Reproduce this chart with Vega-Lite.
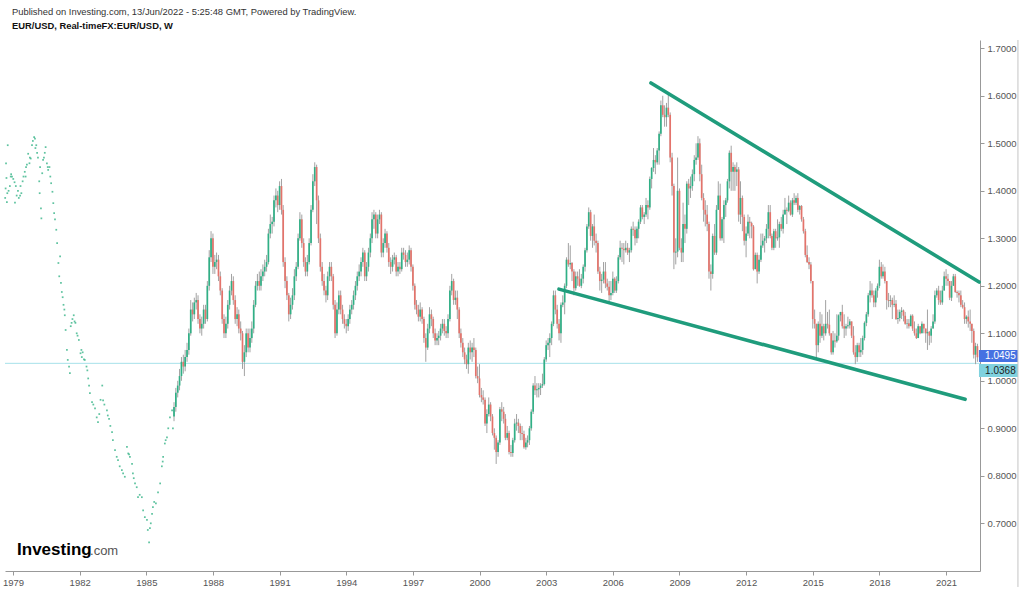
{
"$schema":"https://vega.github.io/schema/vega-lite/v6.json",
"width":975,"height":531,
"autosize":{"type":"none"},
"padding":{"left":5,"top":40,"right":44,"bottom":19},
"background":"white",
"config":{"view":{"stroke":null},"font":"Liberation Sans"},
"title":{"text":"Published on Investing.com, 13/Jun/2022 - 5:25:48 GMT, Powered by TradingView.","subtitle":"EUR/USD, Real-timeFX:EUR/USD, W","anchor":"start","frame":"group","dx":7,"offset":8,"font":"Liberation Sans","fontSize":9.4,"fontWeight":"normal","color":"#333333","subtitleFont":"Liberation Sans","subtitleFontSize":9.4,"subtitleFontWeight":"bold","subtitleColor":"#111111","subtitlePadding":5},
"data":{"values":[{"k":1}]},
"datasets":{
"candles":[
{"t":"1986-04","o":0.925,"h":0.955,"l":0.915,"c":0.945},
{"t":"1986-05","o":0.945,"h":0.985,"l":0.935,"c":0.975},
{"t":"1986-06","o":0.975,"h":1.0,"l":0.965,"c":0.99},
{"t":"1986-07","o":0.99,"h":1.025,"l":0.98,"c":1.01},
{"t":"1986-08","o":1.01,"h":1.05,"l":1.0,"c":1.04},
{"t":"1986-09","o":1.04,"h":1.055,"l":1.015,"c":1.03},
{"t":"1986-10","o":1.03,"h":1.065,"l":1.02,"c":1.05},
{"t":"1986-11","o":1.05,"h":1.08,"l":1.04,"c":1.065},
{"t":"1986-12","o":1.065,"h":1.11,"l":1.055,"c":1.1},
{"t":"1987-01","o":1.1,"h":1.17,"l":1.095,"c":1.15},
{"t":"1987-02","o":1.15,"h":1.165,"l":1.125,"c":1.14},
{"t":"1987-03","o":1.14,"h":1.175,"l":1.13,"c":1.165},
{"t":"1987-04","o":1.165,"h":1.185,"l":1.15,"c":1.17},
{"t":"1987-05","o":1.17,"h":1.18,"l":1.12,"c":1.13},
{"t":"1987-06","o":1.13,"h":1.14,"l":1.1,"c":1.11},
{"t":"1987-07","o":1.11,"h":1.135,"l":1.095,"c":1.12},
{"t":"1987-08","o":1.12,"h":1.16,"l":1.11,"c":1.15},
{"t":"1987-09","o":1.15,"h":1.16,"l":1.12,"c":1.13},
{"t":"1987-10","o":1.13,"h":1.21,"l":1.125,"c":1.2},
{"t":"1987-11","o":1.2,"h":1.275,"l":1.19,"c":1.26},
{"t":"1987-12","o":1.26,"h":1.315,"l":1.25,"c":1.3},
{"t":"1988-01","o":1.3,"h":1.31,"l":1.225,"c":1.24},
{"t":"1988-02","o":1.24,"h":1.265,"l":1.225,"c":1.25},
{"t":"1988-03","o":1.25,"h":1.27,"l":1.235,"c":1.255},
{"t":"1988-04","o":1.255,"h":1.265,"l":1.21,"c":1.22},
{"t":"1988-05","o":1.22,"h":1.23,"l":1.18,"c":1.19},
{"t":"1988-06","o":1.19,"h":1.195,"l":1.12,"c":1.13},
{"t":"1988-07","o":1.13,"h":1.14,"l":1.09,"c":1.1},
{"t":"1988-08","o":1.1,"h":1.135,"l":1.09,"c":1.12},
{"t":"1988-09","o":1.12,"h":1.17,"l":1.11,"c":1.16},
{"t":"1988-10","o":1.16,"h":1.2,"l":1.15,"c":1.19},
{"t":"1988-11","o":1.19,"h":1.225,"l":1.18,"c":1.21},
{"t":"1988-12","o":1.21,"h":1.22,"l":1.16,"c":1.17},
{"t":"1989-01","o":1.17,"h":1.18,"l":1.12,"c":1.13},
{"t":"1989-02","o":1.13,"h":1.155,"l":1.115,"c":1.14},
{"t":"1989-03","o":1.14,"h":1.15,"l":1.1,"c":1.11},
{"t":"1989-04","o":1.11,"h":1.125,"l":1.085,"c":1.1},
{"t":"1989-05","o":1.1,"h":1.105,"l":1.025,"c":1.04},
{"t":"1989-06","o":1.04,"h":1.075,"l":1.01,"c":1.06},
{"t":"1989-07","o":1.06,"h":1.11,"l":1.05,"c":1.1},
{"t":"1989-08","o":1.1,"h":1.11,"l":1.06,"c":1.07},
{"t":"1989-09","o":1.07,"h":1.11,"l":1.06,"c":1.09},
{"t":"1989-10","o":1.09,"h":1.125,"l":1.08,"c":1.11},
{"t":"1989-11","o":1.11,"h":1.17,"l":1.1,"c":1.16},
{"t":"1989-12","o":1.16,"h":1.21,"l":1.155,"c":1.2},
{"t":"1990-01","o":1.2,"h":1.225,"l":1.19,"c":1.21},
{"t":"1990-02","o":1.21,"h":1.23,"l":1.19,"c":1.2},
{"t":"1990-03","o":1.2,"h":1.235,"l":1.19,"c":1.22},
{"t":"1990-04","o":1.22,"h":1.245,"l":1.21,"c":1.23},
{"t":"1990-05","o":1.23,"h":1.255,"l":1.22,"c":1.24},
{"t":"1990-06","o":1.24,"h":1.265,"l":1.23,"c":1.25},
{"t":"1990-07","o":1.25,"h":1.32,"l":1.245,"c":1.31},
{"t":"1990-08","o":1.31,"h":1.35,"l":1.3,"c":1.33},
{"t":"1990-09","o":1.33,"h":1.345,"l":1.31,"c":1.335},
{"t":"1990-10","o":1.335,"h":1.39,"l":1.325,"c":1.38},
{"t":"1990-11","o":1.38,"h":1.405,"l":1.365,"c":1.39},
{"t":"1990-12","o":1.39,"h":1.4,"l":1.355,"c":1.37},
{"t":"1991-01","o":1.37,"h":1.42,"l":1.36,"c":1.41},
{"t":"1991-02","o":1.41,"h":1.425,"l":1.35,"c":1.36},
{"t":"1991-03","o":1.36,"h":1.37,"l":1.24,"c":1.25},
{"t":"1991-04","o":1.25,"h":1.26,"l":1.195,"c":1.21},
{"t":"1991-05","o":1.21,"h":1.22,"l":1.17,"c":1.18},
{"t":"1991-06","o":1.18,"h":1.185,"l":1.125,"c":1.14},
{"t":"1991-07","o":1.14,"h":1.175,"l":1.13,"c":1.16},
{"t":"1991-08","o":1.16,"h":1.195,"l":1.15,"c":1.18},
{"t":"1991-09","o":1.18,"h":1.235,"l":1.17,"c":1.22},
{"t":"1991-10","o":1.22,"h":1.25,"l":1.21,"c":1.24},
{"t":"1991-11","o":1.24,"h":1.31,"l":1.235,"c":1.3},
{"t":"1991-12","o":1.3,"h":1.355,"l":1.295,"c":1.34},
{"t":"1992-01","o":1.34,"h":1.35,"l":1.28,"c":1.29},
{"t":"1992-02","o":1.29,"h":1.3,"l":1.24,"c":1.25},
{"t":"1992-03","o":1.25,"h":1.26,"l":1.22,"c":1.23},
{"t":"1992-04","o":1.23,"h":1.265,"l":1.22,"c":1.25},
{"t":"1992-05","o":1.25,"h":1.3,"l":1.245,"c":1.29},
{"t":"1992-06","o":1.29,"h":1.37,"l":1.285,"c":1.36},
{"t":"1992-07","o":1.36,"h":1.435,"l":1.355,"c":1.42},
{"t":"1992-08","o":1.42,"h":1.46,"l":1.41,"c":1.45},
{"t":"1992-09","o":1.45,"h":1.455,"l":1.33,"c":1.38},
{"t":"1992-10","o":1.38,"h":1.39,"l":1.29,"c":1.3},
{"t":"1992-11","o":1.3,"h":1.31,"l":1.23,"c":1.24},
{"t":"1992-12","o":1.24,"h":1.25,"l":1.2,"c":1.21},
{"t":"1993-01","o":1.21,"h":1.225,"l":1.18,"c":1.19},
{"t":"1993-02","o":1.19,"h":1.2,"l":1.165,"c":1.18},
{"t":"1993-03","o":1.18,"h":1.23,"l":1.17,"c":1.22},
{"t":"1993-04","o":1.22,"h":1.25,"l":1.21,"c":1.24},
{"t":"1993-05","o":1.24,"h":1.25,"l":1.21,"c":1.22},
{"t":"1993-06","o":1.22,"h":1.225,"l":1.15,"c":1.16},
{"t":"1993-07","o":1.16,"h":1.17,"l":1.09,"c":1.1},
{"t":"1993-08","o":1.1,"h":1.165,"l":1.095,"c":1.15},
{"t":"1993-09","o":1.15,"h":1.19,"l":1.14,"c":1.18},
{"t":"1993-10","o":1.18,"h":1.19,"l":1.14,"c":1.15},
{"t":"1993-11","o":1.15,"h":1.16,"l":1.12,"c":1.13},
{"t":"1993-12","o":1.13,"h":1.14,"l":1.11,"c":1.12},
{"t":"1994-01","o":1.12,"h":1.13,"l":1.1,"c":1.115},
{"t":"1994-02","o":1.115,"h":1.14,"l":1.105,"c":1.13},
{"t":"1994-03","o":1.13,"h":1.16,"l":1.12,"c":1.15},
{"t":"1994-04","o":1.15,"h":1.17,"l":1.14,"c":1.16},
{"t":"1994-05","o":1.16,"h":1.19,"l":1.15,"c":1.18},
{"t":"1994-06","o":1.18,"h":1.21,"l":1.17,"c":1.2},
{"t":"1994-07","o":1.2,"h":1.23,"l":1.19,"c":1.22},
{"t":"1994-08","o":1.22,"h":1.245,"l":1.21,"c":1.23},
{"t":"1994-09","o":1.23,"h":1.26,"l":1.22,"c":1.25},
{"t":"1994-10","o":1.25,"h":1.28,"l":1.24,"c":1.27},
{"t":"1994-11","o":1.27,"h":1.275,"l":1.21,"c":1.22},
{"t":"1994-12","o":1.22,"h":1.25,"l":1.21,"c":1.24},
{"t":"1995-01","o":1.24,"h":1.28,"l":1.23,"c":1.27},
{"t":"1995-02","o":1.27,"h":1.31,"l":1.26,"c":1.3},
{"t":"1995-03","o":1.3,"h":1.355,"l":1.29,"c":1.34},
{"t":"1995-04","o":1.34,"h":1.36,"l":1.32,"c":1.35},
{"t":"1995-05","o":1.35,"h":1.355,"l":1.3,"c":1.31},
{"t":"1995-06","o":1.31,"h":1.35,"l":1.3,"c":1.34},
{"t":"1995-07","o":1.34,"h":1.36,"l":1.33,"c":1.35},
{"t":"1995-08","o":1.35,"h":1.355,"l":1.26,"c":1.27},
{"t":"1995-09","o":1.27,"h":1.3,"l":1.26,"c":1.29},
{"t":"1995-10","o":1.29,"h":1.32,"l":1.28,"c":1.31},
{"t":"1995-11","o":1.31,"h":1.315,"l":1.27,"c":1.28},
{"t":"1995-12","o":1.28,"h":1.29,"l":1.24,"c":1.25},
{"t":"1996-01","o":1.25,"h":1.26,"l":1.225,"c":1.24},
{"t":"1996-02","o":1.24,"h":1.265,"l":1.23,"c":1.255},
{"t":"1996-03","o":1.255,"h":1.27,"l":1.245,"c":1.26},
{"t":"1996-04","o":1.26,"h":1.265,"l":1.22,"c":1.23},
{"t":"1996-05","o":1.23,"h":1.25,"l":1.22,"c":1.24},
{"t":"1996-06","o":1.24,"h":1.25,"l":1.225,"c":1.235},
{"t":"1996-07","o":1.235,"h":1.28,"l":1.23,"c":1.27},
{"t":"1996-08","o":1.27,"h":1.28,"l":1.255,"c":1.265},
{"t":"1996-09","o":1.265,"h":1.275,"l":1.24,"c":1.25},
{"t":"1996-10","o":1.25,"h":1.27,"l":1.24,"c":1.255},
{"t":"1996-11","o":1.255,"h":1.285,"l":1.245,"c":1.275},
{"t":"1996-12","o":1.275,"h":1.28,"l":1.23,"c":1.24},
{"t":"1997-01","o":1.24,"h":1.245,"l":1.19,"c":1.2},
{"t":"1997-02","o":1.2,"h":1.205,"l":1.15,"c":1.16},
{"t":"1997-03","o":1.16,"h":1.17,"l":1.14,"c":1.15},
{"t":"1997-04","o":1.15,"h":1.16,"l":1.125,"c":1.135},
{"t":"1997-05","o":1.135,"h":1.165,"l":1.125,"c":1.15},
{"t":"1997-06","o":1.15,"h":1.155,"l":1.12,"c":1.13},
{"t":"1997-07","o":1.13,"h":1.135,"l":1.08,"c":1.09},
{"t":"1997-08","o":1.09,"h":1.1,"l":1.04,"c":1.07},
{"t":"1997-09","o":1.07,"h":1.12,"l":1.065,"c":1.11},
{"t":"1997-10","o":1.11,"h":1.155,"l":1.1,"c":1.14},
{"t":"1997-11","o":1.14,"h":1.15,"l":1.115,"c":1.13},
{"t":"1997-12","o":1.13,"h":1.135,"l":1.09,"c":1.1},
{"t":"1998-01","o":1.1,"h":1.11,"l":1.075,"c":1.085},
{"t":"1998-02","o":1.085,"h":1.1,"l":1.075,"c":1.09},
{"t":"1998-03","o":1.09,"h":1.105,"l":1.075,"c":1.095},
{"t":"1998-04","o":1.095,"h":1.12,"l":1.085,"c":1.11},
{"t":"1998-05","o":1.11,"h":1.13,"l":1.1,"c":1.12},
{"t":"1998-06","o":1.12,"h":1.13,"l":1.095,"c":1.105},
{"t":"1998-07","o":1.105,"h":1.115,"l":1.09,"c":1.1},
{"t":"1998-08","o":1.1,"h":1.14,"l":1.09,"c":1.13},
{"t":"1998-09","o":1.13,"h":1.2,"l":1.125,"c":1.19},
{"t":"1998-10","o":1.19,"h":1.225,"l":1.18,"c":1.21},
{"t":"1998-11","o":1.21,"h":1.215,"l":1.16,"c":1.17},
{"t":"1998-12","o":1.17,"h":1.19,"l":1.16,"c":1.175},
{"t":"1999-01","o":1.175,"h":1.19,"l":1.13,"c":1.15},
{"t":"1999-02","o":1.15,"h":1.155,"l":1.09,"c":1.1},
{"t":"1999-03","o":1.1,"h":1.11,"l":1.07,"c":1.08},
{"t":"1999-04","o":1.08,"h":1.09,"l":1.05,"c":1.06},
{"t":"1999-05","o":1.06,"h":1.07,"l":1.035,"c":1.045},
{"t":"1999-06","o":1.045,"h":1.055,"l":1.025,"c":1.035},
{"t":"1999-07","o":1.035,"h":1.08,"l":1.015,"c":1.07},
{"t":"1999-08","o":1.07,"h":1.085,"l":1.045,"c":1.06},
{"t":"1999-09","o":1.06,"h":1.08,"l":1.04,"c":1.07},
{"t":"1999-10","o":1.07,"h":1.09,"l":1.05,"c":1.065},
{"t":"1999-11","o":1.065,"h":1.07,"l":1.005,"c":1.01},
{"t":"1999-12","o":1.01,"h":1.03,"l":0.995,"c":1.005},
{"t":"2000-01","o":1.005,"h":1.035,"l":0.965,"c":0.97},
{"t":"2000-02","o":0.97,"h":0.985,"l":0.955,"c":0.965},
{"t":"2000-03","o":0.965,"h":0.98,"l":0.95,"c":0.96},
{"t":"2000-04","o":0.96,"h":0.965,"l":0.905,"c":0.91},
{"t":"2000-05","o":0.91,"h":0.94,"l":0.89,"c":0.93},
{"t":"2000-06","o":0.93,"h":0.965,"l":0.925,"c":0.95},
{"t":"2000-07","o":0.95,"h":0.955,"l":0.915,"c":0.925},
{"t":"2000-08","o":0.925,"h":0.93,"l":0.885,"c":0.89},
{"t":"2000-09","o":0.89,"h":0.9,"l":0.855,"c":0.88},
{"t":"2000-10","o":0.88,"h":0.885,"l":0.825,"c":0.85},
{"t":"2000-11","o":0.85,"h":0.875,"l":0.84,"c":0.87},
{"t":"2000-12","o":0.87,"h":0.945,"l":0.865,"c":0.94},
{"t":"2001-01","o":0.94,"h":0.955,"l":0.915,"c":0.935},
{"t":"2001-02","o":0.935,"h":0.945,"l":0.91,"c":0.92},
{"t":"2001-03","o":0.92,"h":0.93,"l":0.875,"c":0.88},
{"t":"2001-04","o":0.88,"h":0.905,"l":0.875,"c":0.89},
{"t":"2001-05","o":0.89,"h":0.895,"l":0.845,"c":0.85},
{"t":"2001-06","o":0.85,"h":0.865,"l":0.84,"c":0.848},
{"t":"2001-07","o":0.848,"h":0.88,"l":0.84,"c":0.875},
{"t":"2001-08","o":0.875,"h":0.92,"l":0.87,"c":0.91},
{"t":"2001-09","o":0.91,"h":0.93,"l":0.895,"c":0.912},
{"t":"2001-10","o":0.912,"h":0.92,"l":0.89,"c":0.905},
{"t":"2001-11","o":0.905,"h":0.91,"l":0.875,"c":0.89},
{"t":"2001-12","o":0.89,"h":0.905,"l":0.875,"c":0.888},
{"t":"2002-01","o":0.888,"h":0.895,"l":0.857,"c":0.86},
{"t":"2002-02","o":0.86,"h":0.88,"l":0.855,"c":0.87},
{"t":"2002-03","o":0.87,"h":0.885,"l":0.86,"c":0.875},
{"t":"2002-04","o":0.875,"h":0.905,"l":0.865,"c":0.9},
{"t":"2002-05","o":0.9,"h":0.94,"l":0.895,"c":0.935},
{"t":"2002-06","o":0.935,"h":0.995,"l":0.93,"c":0.99},
{"t":"2002-07","o":0.99,"h":1.01,"l":0.97,"c":0.98},
{"t":"2002-08","o":0.98,"h":0.995,"l":0.965,"c":0.982},
{"t":"2002-09","o":0.982,"h":0.995,"l":0.965,"c":0.985},
{"t":"2002-10","o":0.985,"h":0.995,"l":0.97,"c":0.99},
{"t":"2002-11","o":0.99,"h":1.015,"l":0.985,"c":0.993},
{"t":"2002-12","o":0.993,"h":1.05,"l":0.99,"c":1.045},
{"t":"2003-01","o":1.045,"h":1.085,"l":1.04,"c":1.075},
{"t":"2003-02","o":1.075,"h":1.09,"l":1.065,"c":1.08},
{"t":"2003-03","o":1.08,"h":1.1,"l":1.05,"c":1.09},
{"t":"2003-04","o":1.09,"h":1.125,"l":1.075,"c":1.12},
{"t":"2003-05","o":1.12,"h":1.19,"l":1.115,"c":1.18},
{"t":"2003-06","o":1.18,"h":1.19,"l":1.14,"c":1.15},
{"t":"2003-07","o":1.15,"h":1.16,"l":1.11,"c":1.12},
{"t":"2003-08","o":1.12,"h":1.13,"l":1.085,"c":1.1},
{"t":"2003-09","o":1.1,"h":1.165,"l":1.08,"c":1.16},
{"t":"2003-10","o":1.16,"h":1.18,"l":1.155,"c":1.165},
{"t":"2003-11","o":1.165,"h":1.205,"l":1.14,"c":1.2},
{"t":"2003-12","o":1.2,"h":1.26,"l":1.195,"c":1.255},
{"t":"2004-01","o":1.255,"h":1.29,"l":1.24,"c":1.245},
{"t":"2004-02","o":1.245,"h":1.285,"l":1.235,"c":1.248},
{"t":"2004-03","o":1.248,"h":1.25,"l":1.21,"c":1.23},
{"t":"2004-04","o":1.23,"h":1.235,"l":1.18,"c":1.195},
{"t":"2004-05","o":1.195,"h":1.23,"l":1.19,"c":1.22},
{"t":"2004-06","o":1.22,"h":1.23,"l":1.2,"c":1.215},
{"t":"2004-07","o":1.215,"h":1.235,"l":1.198,"c":1.2},
{"t":"2004-08","o":1.2,"h":1.225,"l":1.195,"c":1.215},
{"t":"2004-09","o":1.215,"h":1.245,"l":1.205,"c":1.24},
{"t":"2004-10","o":1.24,"h":1.28,"l":1.23,"c":1.275},
{"t":"2004-11","o":1.275,"h":1.33,"l":1.27,"c":1.325},
{"t":"2004-12","o":1.325,"h":1.365,"l":1.32,"c":1.355},
{"t":"2005-01","o":1.355,"h":1.36,"l":1.295,"c":1.305},
{"t":"2005-02","o":1.305,"h":1.33,"l":1.28,"c":1.325},
{"t":"2005-03","o":1.325,"h":1.35,"l":1.285,"c":1.295},
{"t":"2005-04","o":1.295,"h":1.31,"l":1.27,"c":1.29},
{"t":"2005-05","o":1.29,"h":1.295,"l":1.225,"c":1.23},
{"t":"2005-06","o":1.23,"h":1.24,"l":1.19,"c":1.21},
{"t":"2005-07","o":1.21,"h":1.225,"l":1.185,"c":1.213},
{"t":"2005-08","o":1.213,"h":1.25,"l":1.205,"c":1.23},
{"t":"2005-09","o":1.23,"h":1.25,"l":1.195,"c":1.205},
{"t":"2005-10","o":1.205,"h":1.215,"l":1.19,"c":1.198},
{"t":"2005-11","o":1.198,"h":1.21,"l":1.165,"c":1.18},
{"t":"2005-12","o":1.18,"h":1.21,"l":1.17,"c":1.185},
{"t":"2006-01","o":1.185,"h":1.23,"l":1.18,"c":1.215},
{"t":"2006-02","o":1.215,"h":1.218,"l":1.185,"c":1.19},
{"t":"2006-03","o":1.19,"h":1.22,"l":1.185,"c":1.21},
{"t":"2006-04","o":1.21,"h":1.265,"l":1.205,"c":1.26},
{"t":"2006-05","o":1.26,"h":1.295,"l":1.255,"c":1.28},
{"t":"2006-06","o":1.28,"h":1.29,"l":1.25,"c":1.278},
{"t":"2006-07","o":1.278,"h":1.29,"l":1.245,"c":1.275},
{"t":"2006-08","o":1.275,"h":1.295,"l":1.27,"c":1.28},
{"t":"2006-09","o":1.28,"h":1.29,"l":1.265,"c":1.27},
{"t":"2006-10","o":1.27,"h":1.28,"l":1.25,"c":1.275},
{"t":"2006-11","o":1.275,"h":1.325,"l":1.27,"c":1.32},
{"t":"2006-12","o":1.32,"h":1.335,"l":1.305,"c":1.318},
{"t":"2007-01","o":1.318,"h":1.325,"l":1.285,"c":1.3},
{"t":"2007-02","o":1.3,"h":1.325,"l":1.29,"c":1.32},
{"t":"2007-03","o":1.32,"h":1.34,"l":1.3,"c":1.335},
{"t":"2007-04","o":1.335,"h":1.37,"l":1.33,"c":1.365},
{"t":"2007-05","o":1.365,"h":1.37,"l":1.34,"c":1.345},
{"t":"2007-06","o":1.345,"h":1.355,"l":1.33,"c":1.35},
{"t":"2007-07","o":1.35,"h":1.385,"l":1.345,"c":1.37},
{"t":"2007-08","o":1.37,"h":1.38,"l":1.34,"c":1.365},
{"t":"2007-09","o":1.365,"h":1.43,"l":1.36,"c":1.425},
{"t":"2007-10","o":1.425,"h":1.45,"l":1.405,"c":1.448},
{"t":"2007-11","o":1.448,"h":1.49,"l":1.44,"c":1.465},
{"t":"2007-12","o":1.465,"h":1.475,"l":1.435,"c":1.46},
{"t":"2008-01","o":1.46,"h":1.49,"l":1.455,"c":1.485},
{"t":"2008-02","o":1.485,"h":1.525,"l":1.455,"c":1.52},
{"t":"2008-03","o":1.52,"h":1.59,"l":1.515,"c":1.58},
{"t":"2008-04","o":1.58,"h":1.6,"l":1.555,"c":1.56},
{"t":"2008-05","o":1.56,"h":1.58,"l":1.535,"c":1.555},
{"t":"2008-06","o":1.555,"h":1.585,"l":1.535,"c":1.575},
{"t":"2008-07","o":1.575,"h":1.605,"l":1.555,"c":1.56},
{"t":"2008-08","o":1.56,"h":1.565,"l":1.46,"c":1.47},
{"t":"2008-09","o":1.47,"h":1.48,"l":1.39,"c":1.41},
{"t":"2008-10","o":1.41,"h":1.415,"l":1.235,"c":1.27},
{"t":"2008-11","o":1.27,"h":1.3,"l":1.245,"c":1.272},
{"t":"2008-12","o":1.272,"h":1.47,"l":1.26,"c":1.4},
{"t":"2009-01","o":1.4,"h":1.405,"l":1.275,"c":1.28},
{"t":"2009-02","o":1.28,"h":1.3,"l":1.25,"c":1.27},
{"t":"2009-03","o":1.27,"h":1.375,"l":1.25,"c":1.33},
{"t":"2009-04","o":1.33,"h":1.35,"l":1.29,"c":1.32},
{"t":"2009-05","o":1.32,"h":1.42,"l":1.31,"c":1.415},
{"t":"2009-06","o":1.415,"h":1.425,"l":1.37,"c":1.405},
{"t":"2009-07","o":1.405,"h":1.43,"l":1.385,"c":1.41},
{"t":"2009-08","o":1.41,"h":1.445,"l":1.4,"c":1.435},
{"t":"2009-09","o":1.435,"h":1.475,"l":1.42,"c":1.465},
{"t":"2009-10","o":1.465,"h":1.5,"l":1.455,"c":1.47},
{"t":"2009-11","o":1.47,"h":1.515,"l":1.465,"c":1.5},
{"t":"2009-12","o":1.5,"h":1.51,"l":1.42,"c":1.435},
{"t":"2010-01","o":1.435,"h":1.455,"l":1.38,"c":1.385},
{"t":"2010-02","o":1.385,"h":1.395,"l":1.335,"c":1.36},
{"t":"2010-03","o":1.36,"h":1.38,"l":1.325,"c":1.35},
{"t":"2010-04","o":1.35,"h":1.37,"l":1.315,"c":1.33},
{"t":"2010-05","o":1.33,"h":1.335,"l":1.215,"c":1.23},
{"t":"2010-06","o":1.23,"h":1.245,"l":1.19,"c":1.225},
{"t":"2010-07","o":1.225,"h":1.31,"l":1.215,"c":1.305},
{"t":"2010-08","o":1.305,"h":1.33,"l":1.265,"c":1.27},
{"t":"2010-09","o":1.27,"h":1.37,"l":1.265,"c":1.36},
{"t":"2010-10","o":1.36,"h":1.42,"l":1.36,"c":1.39},
{"t":"2010-11","o":1.39,"h":1.415,"l":1.295,"c":1.3},
{"t":"2010-12","o":1.3,"h":1.345,"l":1.295,"c":1.34},
{"t":"2011-01","o":1.34,"h":1.38,"l":1.29,"c":1.37},
{"t":"2011-02","o":1.37,"h":1.385,"l":1.345,"c":1.38},
{"t":"2011-03","o":1.38,"h":1.425,"l":1.375,"c":1.42},
{"t":"2011-04","o":1.42,"h":1.485,"l":1.405,"c":1.48},
{"t":"2011-05","o":1.48,"h":1.495,"l":1.4,"c":1.44},
{"t":"2011-06","o":1.44,"h":1.46,"l":1.4,"c":1.45},
{"t":"2011-07","o":1.45,"h":1.455,"l":1.4,"c":1.44},
{"t":"2011-08","o":1.44,"h":1.46,"l":1.41,"c":1.445},
{"t":"2011-09","o":1.445,"h":1.45,"l":1.335,"c":1.35},
{"t":"2011-10","o":1.35,"h":1.42,"l":1.33,"c":1.385},
{"t":"2011-11","o":1.385,"h":1.39,"l":1.315,"c":1.345},
{"t":"2011-12","o":1.345,"h":1.35,"l":1.285,"c":1.295},
{"t":"2012-01","o":1.295,"h":1.325,"l":1.26,"c":1.31},
{"t":"2012-02","o":1.31,"h":1.35,"l":1.305,"c":1.335},
{"t":"2012-03","o":1.335,"h":1.345,"l":1.3,"c":1.332},
{"t":"2012-04","o":1.332,"h":1.335,"l":1.3,"c":1.325},
{"t":"2012-05","o":1.325,"h":1.328,"l":1.232,"c":1.235},
{"t":"2012-06","o":1.235,"h":1.27,"l":1.235,"c":1.265},
{"t":"2012-07","o":1.265,"h":1.27,"l":1.205,"c":1.23},
{"t":"2012-08","o":1.23,"h":1.265,"l":1.225,"c":1.255},
{"t":"2012-09","o":1.255,"h":1.31,"l":1.25,"c":1.285},
{"t":"2012-10","o":1.285,"h":1.31,"l":1.28,"c":1.295},
{"t":"2012-11","o":1.295,"h":1.305,"l":1.27,"c":1.3},
{"t":"2012-12","o":1.3,"h":1.33,"l":1.29,"c":1.32},
{"t":"2013-01","o":1.32,"h":1.37,"l":1.3,"c":1.355},
{"t":"2013-02","o":1.355,"h":1.37,"l":1.3,"c":1.305},
{"t":"2013-03","o":1.305,"h":1.31,"l":1.275,"c":1.28},
{"t":"2013-04","o":1.28,"h":1.32,"l":1.275,"c":1.315},
{"t":"2013-05","o":1.315,"h":1.32,"l":1.28,"c":1.3},
{"t":"2013-06","o":1.3,"h":1.34,"l":1.295,"c":1.302},
{"t":"2013-07","o":1.302,"h":1.335,"l":1.28,"c":1.33},
{"t":"2013-08","o":1.33,"h":1.345,"l":1.315,"c":1.32},
{"t":"2013-09","o":1.32,"h":1.36,"l":1.31,"c":1.35},
{"t":"2013-10","o":1.35,"h":1.385,"l":1.35,"c":1.36},
{"t":"2013-11","o":1.36,"h":1.365,"l":1.33,"c":1.358},
{"t":"2013-12","o":1.358,"h":1.39,"l":1.355,"c":1.375},
{"t":"2014-01","o":1.375,"h":1.38,"l":1.348,"c":1.35},
{"t":"2014-02","o":1.35,"h":1.385,"l":1.345,"c":1.38},
{"t":"2014-03","o":1.38,"h":1.395,"l":1.37,"c":1.375},
{"t":"2014-04","o":1.375,"h":1.39,"l":1.37,"c":1.385},
{"t":"2014-05","o":1.385,"h":1.395,"l":1.355,"c":1.36},
{"t":"2014-06","o":1.36,"h":1.37,"l":1.35,"c":1.368},
{"t":"2014-07","o":1.368,"h":1.37,"l":1.335,"c":1.34},
{"t":"2014-08","o":1.34,"h":1.345,"l":1.31,"c":1.315},
{"t":"2014-09","o":1.315,"h":1.32,"l":1.26,"c":1.265},
{"t":"2014-10","o":1.265,"h":1.285,"l":1.248,"c":1.25},
{"t":"2014-11","o":1.25,"h":1.26,"l":1.235,"c":1.245},
{"t":"2014-12","o":1.245,"h":1.25,"l":1.205,"c":1.21},
{"t":"2015-01","o":1.21,"h":1.21,"l":1.11,"c":1.13},
{"t":"2015-02","o":1.13,"h":1.15,"l":1.11,"c":1.12},
{"t":"2015-03","o":1.12,"h":1.12,"l":1.045,"c":1.075},
{"t":"2015-04","o":1.075,"h":1.125,"l":1.06,"c":1.12},
{"t":"2015-05","o":1.12,"h":1.145,"l":1.08,"c":1.095},
{"t":"2015-06","o":1.095,"h":1.14,"l":1.09,"c":1.115},
{"t":"2015-07","o":1.115,"h":1.12,"l":1.085,"c":1.1},
{"t":"2015-08","o":1.1,"h":1.17,"l":1.095,"c":1.12},
{"t":"2015-09","o":1.12,"h":1.145,"l":1.11,"c":1.118},
{"t":"2015-10","o":1.118,"h":1.15,"l":1.095,"c":1.1},
{"t":"2015-11","o":1.1,"h":1.1,"l":1.055,"c":1.06},
{"t":"2015-12","o":1.06,"h":1.105,"l":1.055,"c":1.085},
{"t":"2016-01","o":1.085,"h":1.1,"l":1.07,"c":1.083},
{"t":"2016-02","o":1.083,"h":1.14,"l":1.08,"c":1.095},
{"t":"2016-03","o":1.095,"h":1.14,"l":1.085,"c":1.138},
{"t":"2016-04","o":1.138,"h":1.145,"l":1.125,"c":1.145},
{"t":"2016-05","o":1.145,"h":1.16,"l":1.11,"c":1.115},
{"t":"2016-06","o":1.115,"h":1.14,"l":1.09,"c":1.11},
{"t":"2016-07","o":1.11,"h":1.12,"l":1.095,"c":1.115},
{"t":"2016-08","o":1.115,"h":1.135,"l":1.11,"c":1.117},
{"t":"2016-09","o":1.117,"h":1.13,"l":1.11,"c":1.125},
{"t":"2016-10","o":1.125,"h":1.125,"l":1.09,"c":1.095},
{"t":"2016-11","o":1.095,"h":1.115,"l":1.055,"c":1.06},
{"t":"2016-12","o":1.06,"h":1.075,"l":1.035,"c":1.05},
{"t":"2017-01","o":1.05,"h":1.08,"l":1.04,"c":1.075},
{"t":"2017-02","o":1.075,"h":1.08,"l":1.05,"c":1.06},
{"t":"2017-03","o":1.06,"h":1.09,"l":1.05,"c":1.065},
{"t":"2017-04","o":1.065,"h":1.095,"l":1.055,"c":1.09},
{"t":"2017-05","o":1.09,"h":1.125,"l":1.085,"c":1.122},
{"t":"2017-06","o":1.122,"h":1.145,"l":1.115,"c":1.14},
{"t":"2017-07","o":1.14,"h":1.185,"l":1.135,"c":1.18},
{"t":"2017-08","o":1.18,"h":1.21,"l":1.165,"c":1.19},
{"t":"2017-09","o":1.19,"h":1.205,"l":1.175,"c":1.18},
{"t":"2017-10","o":1.18,"h":1.19,"l":1.155,"c":1.165},
{"t":"2017-11","o":1.165,"h":1.195,"l":1.155,"c":1.19},
{"t":"2017-12","o":1.19,"h":1.205,"l":1.175,"c":1.2},
{"t":"2018-01","o":1.2,"h":1.255,"l":1.195,"c":1.24},
{"t":"2018-02","o":1.24,"h":1.25,"l":1.215,"c":1.22},
{"t":"2018-03","o":1.22,"h":1.245,"l":1.215,"c":1.23},
{"t":"2018-04","o":1.23,"h":1.24,"l":1.205,"c":1.21},
{"t":"2018-05","o":1.21,"h":1.21,"l":1.15,"c":1.17},
{"t":"2018-06","o":1.17,"h":1.185,"l":1.155,"c":1.168},
{"t":"2018-07","o":1.168,"h":1.18,"l":1.155,"c":1.17},
{"t":"2018-08","o":1.17,"h":1.175,"l":1.13,"c":1.16},
{"t":"2018-09","o":1.16,"h":1.18,"l":1.155,"c":1.162},
{"t":"2018-10","o":1.162,"h":1.17,"l":1.128,"c":1.13},
{"t":"2018-11","o":1.13,"h":1.15,"l":1.12,"c":1.132},
{"t":"2018-12","o":1.132,"h":1.15,"l":1.125,"c":1.145},
{"t":"2019-01","o":1.145,"h":1.155,"l":1.13,"c":1.148},
{"t":"2019-02","o":1.148,"h":1.15,"l":1.125,"c":1.137},
{"t":"2019-03","o":1.137,"h":1.145,"l":1.118,"c":1.12},
{"t":"2019-04","o":1.12,"h":1.13,"l":1.11,"c":1.121},
{"t":"2019-05","o":1.121,"h":1.13,"l":1.11,"c":1.115},
{"t":"2019-06","o":1.115,"h":1.14,"l":1.115,"c":1.137},
{"t":"2019-07","o":1.137,"h":1.14,"l":1.105,"c":1.11},
{"t":"2019-08","o":1.11,"h":1.125,"l":1.095,"c":1.1},
{"t":"2019-09","o":1.1,"h":1.11,"l":1.088,"c":1.09},
{"t":"2019-10","o":1.09,"h":1.12,"l":1.09,"c":1.115},
{"t":"2019-11","o":1.115,"h":1.115,"l":1.098,"c":1.1},
{"t":"2019-12","o":1.1,"h":1.125,"l":1.1,"c":1.12},
{"t":"2020-01","o":1.12,"h":1.12,"l":1.1,"c":1.11},
{"t":"2020-02","o":1.11,"h":1.11,"l":1.08,"c":1.1},
{"t":"2020-03","o":1.1,"h":1.15,"l":1.065,"c":1.103},
{"t":"2020-04","o":1.103,"h":1.105,"l":1.075,"c":1.095},
{"t":"2020-05","o":1.095,"h":1.115,"l":1.08,"c":1.11},
{"t":"2020-06","o":1.11,"h":1.14,"l":1.11,"c":1.125},
{"t":"2020-07","o":1.125,"h":1.19,"l":1.12,"c":1.18},
{"t":"2020-08","o":1.18,"h":1.195,"l":1.175,"c":1.19},
{"t":"2020-09","o":1.19,"h":1.2,"l":1.16,"c":1.17},
{"t":"2020-10","o":1.17,"h":1.19,"l":1.16,"c":1.165},
{"t":"2020-11","o":1.165,"h":1.2,"l":1.16,"c":1.19},
{"t":"2020-12","o":1.19,"h":1.23,"l":1.19,"c":1.22},
{"t":"2021-01","o":1.22,"h":1.235,"l":1.2,"c":1.215},
{"t":"2021-02","o":1.215,"h":1.225,"l":1.2,"c":1.21},
{"t":"2021-03","o":1.21,"h":1.21,"l":1.17,"c":1.175},
{"t":"2021-04","o":1.175,"h":1.21,"l":1.168,"c":1.2},
{"t":"2021-05","o":1.2,"h":1.225,"l":1.2,"c":1.22},
{"t":"2021-06","o":1.22,"h":1.225,"l":1.185,"c":1.187},
{"t":"2021-07","o":1.187,"h":1.19,"l":1.175,"c":1.185},
{"t":"2021-08","o":1.185,"h":1.19,"l":1.165,"c":1.18},
{"t":"2021-09","o":1.18,"h":1.19,"l":1.155,"c":1.16},
{"t":"2021-10","o":1.16,"h":1.17,"l":1.152,"c":1.155},
{"t":"2021-11","o":1.155,"h":1.165,"l":1.12,"c":1.13},
{"t":"2021-12","o":1.13,"h":1.138,"l":1.12,"c":1.135},
{"t":"2022-01","o":1.135,"h":1.148,"l":1.112,"c":1.125},
{"t":"2022-02","o":1.125,"h":1.15,"l":1.105,"c":1.12},
{"t":"2022-03","o":1.12,"h":1.12,"l":1.08,"c":1.105},
{"t":"2022-04","o":1.105,"h":1.11,"l":1.047,"c":1.055},
{"t":"2022-05","o":1.055,"h":1.08,"l":1.035,"c":1.073},
{"t":"2022-06","o":1.073,"h":1.078,"l":1.04,"c":1.0495}
],
"dots":[
{"t":"1978-08-25","p":1.385},{"t":"1978-09-01","p":1.405},{"t":"1978-09-08","p":1.458},{"t":"1978-09-15","p":1.427},
{"t":"1978-09-22","p":1.376},{"t":"1978-09-29","p":1.395},{"t":"1978-10-06","p":1.496},{"t":"1978-10-20","p":1.4},
{"t":"1978-11-10","p":1.41},{"t":"1978-11-24","p":1.43},{"t":"1978-12-01","p":1.435},{"t":"1978-12-15","p":1.43},
{"t":"1979-01-05","p":1.425},{"t":"1979-01-26","p":1.418},{"t":"1979-02-02","p":1.375},{"t":"1979-02-16","p":1.41},
{"t":"1979-03-02","p":1.39},{"t":"1979-03-23","p":1.4},{"t":"1979-04-06","p":1.385},{"t":"1979-04-27","p":1.39},
{"t":"1979-05-04","p":1.41},{"t":"1979-05-18","p":1.395},{"t":"1979-06-08","p":1.42},{"t":"1979-06-22","p":1.43},
{"t":"1979-07-13","p":1.44},{"t":"1979-07-27","p":1.43},{"t":"1979-08-03","p":1.45},{"t":"1979-08-17","p":1.455},
{"t":"1979-09-07","p":1.478},{"t":"1979-09-28","p":1.458},{"t":"1979-10-05","p":1.47},{"t":"1979-10-19","p":1.468},
{"t":"1979-11-09","p":1.496},{"t":"1979-11-23","p":1.505},{"t":"1979-12-14","p":1.513},{"t":"1979-12-28","p":1.51},
{"t":"1980-01-04","p":1.49},{"t":"1980-01-18","p":1.496},{"t":"1980-02-01","p":1.48},{"t":"1980-02-15","p":1.47},
{"t":"1980-03-07","p":1.42},{"t":"1980-03-14","p":1.395},{"t":"1980-03-21","p":1.45},{"t":"1980-04-04","p":1.363},
{"t":"1980-04-11","p":1.342},{"t":"1980-04-25","p":1.437},{"t":"1980-05-09","p":1.465},{"t":"1980-05-23","p":1.47},
{"t":"1980-06-06","p":1.48},{"t":"1980-06-20","p":1.492},{"t":"1980-07-11","p":1.458},{"t":"1980-07-25","p":1.45},
{"t":"1980-08-01","p":1.444},{"t":"1980-08-22","p":1.45},{"t":"1980-09-05","p":1.43},{"t":"1980-09-19","p":1.416},
{"t":"1980-10-10","p":1.398},{"t":"1980-10-24","p":1.374},{"t":"1980-11-07","p":1.353},{"t":"1980-11-21","p":1.34},
{"t":"1980-12-12","p":1.318},{"t":"1980-12-26","p":1.29},{"t":"1981-01-16","p":1.248},{"t":"1981-01-30","p":1.22},
{"t":"1981-02-13","p":1.262},{"t":"1981-02-27","p":1.206},{"t":"1981-03-13","p":1.187},{"t":"1981-03-27","p":1.176},
{"t":"1981-04-10","p":1.16},{"t":"1981-04-24","p":1.15},{"t":"1981-05-01","p":1.138},{"t":"1981-05-15","p":1.107},
{"t":"1981-06-05","p":1.065},{"t":"1981-06-19","p":1.044},{"t":"1981-07-10","p":1.03},{"t":"1981-07-24","p":1.016},
{"t":"1981-08-07","p":1.115},{"t":"1981-08-21","p":1.122},{"t":"1981-09-04","p":1.13},{"t":"1981-09-25","p":1.138},
{"t":"1981-10-09","p":1.125},{"t":"1981-10-23","p":1.122},{"t":"1981-11-13","p":1.1},{"t":"1981-11-27","p":1.095},
{"t":"1981-12-18","p":1.086},{"t":"1982-01-15","p":1.058},{"t":"1982-01-29","p":1.065},{"t":"1982-02-05","p":1.05},
{"t":"1982-02-19","p":1.06},{"t":"1982-03-12","p":1.045},{"t":"1982-03-26","p":1.044},{"t":"1982-04-23","p":1.03},
{"t":"1982-05-07","p":1.022},{"t":"1982-05-21","p":1.005},{"t":"1982-06-04","p":0.99},{"t":"1982-06-18","p":0.974},
{"t":"1982-07-23","p":0.955},{"t":"1982-08-13","p":0.95},{"t":"1982-09-10","p":0.942},{"t":"1982-10-08","p":0.923},
{"t":"1982-10-29","p":0.913},{"t":"1982-11-19","p":0.93},{"t":"1982-12-10","p":0.96},{"t":"1983-01-07","p":0.99},
{"t":"1983-01-21","p":0.959},{"t":"1983-02-11","p":0.95},{"t":"1983-03-25","p":0.938},{"t":"1983-04-08","p":0.927},
{"t":"1983-04-29","p":0.92},{"t":"1983-05-20","p":0.905},{"t":"1983-06-17","p":0.892},{"t":"1983-07-01","p":0.875},
{"t":"1983-08-05","p":0.854},{"t":"1983-09-02","p":0.84},{"t":"1983-09-23","p":0.833},{"t":"1983-10-21","p":0.82},
{"t":"1983-11-25","p":0.812},{"t":"1983-12-16","p":0.805},{"t":"1984-01-13","p":0.798},{"t":"1984-02-17","p":0.861},
{"t":"1984-03-09","p":0.847},{"t":"1984-03-23","p":0.845},{"t":"1984-04-06","p":0.84},{"t":"1984-05-11","p":0.825},
{"t":"1984-05-25","p":0.805},{"t":"1984-06-08","p":0.795},{"t":"1984-06-29","p":0.784},{"t":"1984-07-27","p":0.776},
{"t":"1984-08-17","p":0.755},{"t":"1984-09-14","p":0.76},{"t":"1984-10-19","p":0.755},{"t":"1984-11-09","p":0.727},
{"t":"1984-12-07","p":0.713},{"t":"1985-01-11","p":0.707},{"t":"1985-01-25","p":0.686},{"t":"1985-02-15","p":0.66},
{"t":"1985-03-01","p":0.69},{"t":"1985-03-15","p":0.7},{"t":"1985-04-05","p":0.72},{"t":"1985-04-19","p":0.734},
{"t":"1985-05-10","p":0.745},{"t":"1985-06-07","p":0.742},{"t":"1985-07-12","p":0.765},{"t":"1985-08-16","p":0.784},
{"t":"1985-09-13","p":0.82},{"t":"1985-09-27","p":0.83},{"t":"1985-10-04","p":0.84},{"t":"1985-11-01","p":0.868},
{"t":"1985-11-15","p":0.875},{"t":"1985-12-06","p":0.881},{"t":"1985-12-27","p":0.9},{"t":"1986-01-24","p":0.923},
{"t":"1986-02-28","p":0.938},{"t":"1986-03-14","p":0.9}
],
"trend":[
{"t":"2007-09-20","p":1.627,"g":"upper"},{"t":"2022-06-28","p":1.208,"g":"upper"},
{"t":"2003-07-30","p":1.193,"g":"lower"},{"t":"2021-11-10","p":0.961,"g":"lower"}
]
},
"layer":[
{"mark":{"type":"rule","color":"#a6e1ea","strokeWidth":1},
 "encoding":{"y":{"datum":1.0368,"type":"quantitative","title":null,
   "scale":{"domain":[0.5996,1.7175],"nice":false,"zero":false},
   "axis":{"orient":"right","values":[0.7,0.8,0.9,1.0,1.1,1.2,1.3,1.4,1.5,1.6,1.7],"format":".4f","grid":false,"labelColor":"#555555","labelFontSize":9.5,"labelFont":"Liberation Sans","tickSize":4,"tickColor":"#999999","domainColor":"#999999","labelPadding":3,"title":null}}}},
{"data":{"name":"dots"},
 "mark":{"type":"point","shape":"square","filled":true,"size":3,"color":"#43b88f","opacity":0.85},
 "encoding":{"x":{"field":"t","type":"temporal","title":null},"y":{"field":"p","type":"quantitative","title":null}}},
{"data":{"name":"candles"},
 "mark":{"type":"rule","color":"#a2a2a2","strokeWidth":1},
 "encoding":{
  "x":{"field":"t","type":"temporal","title":null,
   "scale":{"type":"utc","domain":[{"year":1978,"month":8,"date":22,"utc":true},{"year":2022,"month":7,"date":13,"utc":true}],"nice":false},
   "axis":{"values":[{"year":1979,"utc":true},{"year":1982,"utc":true},{"year":1985,"utc":true},{"year":1988,"utc":true},{"year":1991,"utc":true},{"year":1994,"utc":true},{"year":1997,"utc":true},{"year":2000,"utc":true},{"year":2003,"utc":true},{"year":2006,"utc":true},{"year":2009,"utc":true},{"year":2012,"utc":true},{"year":2015,"utc":true},{"year":2018,"utc":true},{"year":2021,"utc":true}],
    "format":"%Y","grid":false,"labelFlush":false,"labelOverlap":false,"labelColor":"#555555","labelFontSize":9.5,"labelFont":"Liberation Sans","tickSize":4,"tickColor":"#999999","domainColor":"#999999","labelPadding":2,"title":null}},
  "y":{"field":"l","type":"quantitative","title":null},
  "y2":{"field":"h"}}},
{"data":{"name":"candles"},
 "mark":{"type":"rule","strokeWidth":1.7},
 "encoding":{
  "x":{"field":"t","type":"temporal","title":null},
  "y":{"field":"o","type":"quantitative","title":null},
  "y2":{"field":"c"},
  "color":{"condition":{"test":"datum.c >= datum.o","value":"#30b086"},"value":"#e4736b"}}},
{"data":{"name":"trend"},
 "mark":{"type":"line","color":"#1f9c7c","strokeWidth":3.6,"strokeCap":"round"},
 "encoding":{"x":{"field":"t","type":"temporal","title":null},"y":{"field":"p","type":"quantitative","title":null},"detail":{"field":"g"}}},
{"mark":{"type":"rect","color":"#4571e2"},
 "encoding":{"x":{"datum":{"year":2022,"month":6,"date":26,"utc":true},"type":"temporal","title":null},"x2":{"datum":{"year":2024,"month":3,"date":28,"utc":true}},
  "y":{"datum":1.0396,"type":"quantitative","title":null},"y2":{"datum":1.0648}}},
{"mark":{"type":"rect","color":"#80d2df"},
 "encoding":{"x":{"datum":{"year":2022,"month":6,"date":26,"utc":true},"type":"temporal","title":null},"x2":{"datum":{"year":2024,"month":3,"date":28,"utc":true}},
  "y":{"datum":1.008,"type":"quantitative","title":null},"y2":{"datum":1.0354}}},
{"mark":{"type":"text","text":"1.0495","color":"#ffffff","fontSize":10,"align":"left","baseline":"middle","font":"Liberation Sans"},
 "encoding":{"x":{"datum":{"year":2022,"month":10,"date":5,"utc":true},"type":"temporal","title":null},"y":{"datum":1.0522,"type":"quantitative","title":null}}},
{"mark":{"type":"text","text":"1.0368","color":"#222222","fontSize":10,"align":"left","baseline":"middle","font":"Liberation Sans"},
 "encoding":{"x":{"datum":{"year":2022,"month":10,"date":5,"utc":true},"type":"temporal","title":null},"y":{"datum":1.0217,"type":"quantitative","title":null}}},
{"mark":{"type":"rule","color":"#c4c4c4","strokeWidth":1},
 "encoding":{"x":{"datum":{"year":2024,"month":3,"date":28,"utc":true},"type":"temporal","title":null},"y":{"datum":0.566,"type":"quantitative","title":null},"y2":{"datum":1.7175}}},
{"mark":{"type":"text","text":"Investing","color":"#000000","fontSize":17,"fontWeight":"bold","align":"left","baseline":"alphabetic","font":"Liberation Sans"},
 "encoding":{"x":{"datum":{"year":1979,"month":3,"date":8,"utc":true},"type":"temporal","title":null},"y":{"datum":0.6333,"type":"quantitative","title":null}}},
{"mark":{"type":"text","text":".com","color":"#555555","fontSize":13,"align":"left","baseline":"alphabetic","font":"Liberation Sans"},
 "encoding":{"x":{"datum":{"year":1982,"month":6,"date":20,"utc":true},"type":"temporal","title":null},"y":{"datum":0.6333,"type":"quantitative","title":null}}}
]
}
